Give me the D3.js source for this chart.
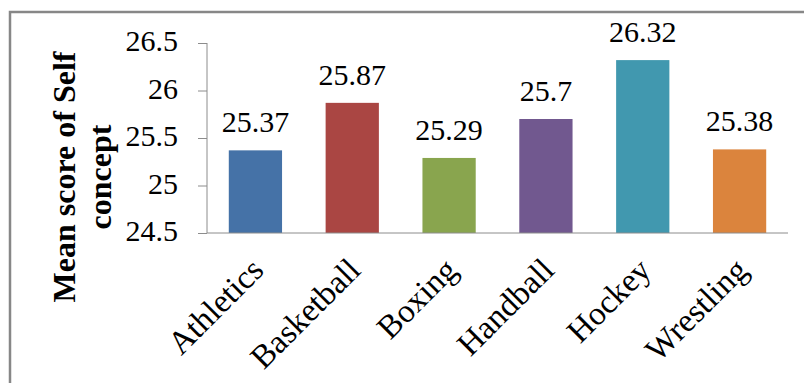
<!DOCTYPE html>
<html>
<head>
<meta charset="utf-8">
<script src="https://cdn.jsdelivr.net/npm/d3@7"></script>
<style>
  body { margin: 0; background: #fff; }
  svg { display: block; }
  text { font-family: "Liberation Serif", "Times New Roman", serif; fill: #000; }
</style>
</head>
<body>
<script>
const categories = ["Athletics", "Basketball", "Boxing", "Handball", "Hockey", "Wrestling"];
const values = [25.37, 25.87, 25.29, 25.7, 26.32, 25.38];
const colors = ["#4572A7", "#AA4643", "#89A54E", "#71588F", "#4198AF", "#DB843D"];
const yTicks = [24.5, 25, 25.5, 26, 26.5];
const yTickLabels = ["24.5", "25", "25.5", "26", "26.5"];
const titleLines = ["Mean score of Self", "concept"];

const width = 804, height = 383;
const plotLeft = 207, plotRight = 788, plotTop = 43, plotBottom = 233;

const svg = d3.select("body")
  .append("svg")
  .attr("width", width)
  .attr("height", height);

svg.append("rect")
  .attr("width", width)
  .attr("height", height)
  .attr("fill", "#fff");

// outer frame, cut off at right and bottom
svg.append("path")
  .attr("d", `M10,${height} L10,12 L${width},12`)
  .attr("fill", "none")
  .attr("stroke", "#878787")
  .attr("stroke-width", 2.5);

const x = d3.scaleBand()
  .domain(categories)
  .range([plotLeft, plotRight])
  .paddingInner(0.45)
  .paddingOuter(0.225);

const y = d3.scaleLinear()
  .domain([24.5, 26.5])
  .range([plotBottom, plotTop]);

svg.selectAll(".bar")
  .data(values)
  .enter()
  .append("rect")
  .attr("class", "bar")
  .attr("x", (d, i) => x(categories[i]))
  .attr("y", (d) => y(d))
  .attr("width", x.bandwidth())
  .attr("height", (d) => y(24.5) - y(d))
  .attr("fill", (d, i) => colors[i]);

const yAxis = svg.append("g")
  .attr("transform", `translate(${plotLeft},0)`)
  .call(d3.axisLeft(y)
    .tickValues(yTicks)
    .tickSize(9)
    .tickPadding(20)
    .tickFormat((d, i) => yTickLabels[i]));
yAxis.select(".domain").attr("stroke", "#8c8c8c").attr("d", `M0,${plotTop}V${plotBottom}`);
yAxis.selectAll(".tick line").attr("stroke", "#8c8c8c");
yAxis.selectAll(".tick text")
  .attr("font-size", 30)
  .attr("dy", "0.25em");

const xAxis = svg.append("g")
  .attr("transform", `translate(0,${plotBottom})`)
  .call(d3.axisBottom(x).tickSize(0).tickFormat(""));
xAxis.select(".domain").attr("stroke", "#8c8c8c").attr("d", `M${plotLeft},0H${plotRight}`);

svg.selectAll(".cat")
  .data(categories)
  .enter()
  .append("text")
  .attr("class", "cat")
  .attr("text-anchor", "end")
  .attr("font-size", 33)
  .attr("transform", (d) => `translate(${x(d) + x.bandwidth() / 2 + 10},${plotBottom + 39}) rotate(-45)`)
  .text((d) => d);

svg.selectAll(".lbl")
  .data(values)
  .enter()
  .append("text")
  .attr("class", "lbl")
  .attr("text-anchor", "middle")
  .attr("font-size", 30)
  .attr("x", (d, i) => x(categories[i]) + x.bandwidth() / 2)
  .attr("y", (d) => y(d) - 18)
  .text((d) => d);

const title = svg.append("text")
  .attr("text-anchor", "middle")
  .attr("font-weight", "bold")
  .attr("font-size", 32)
  .attr("transform", `translate(0,177) rotate(-90)`);
title.selectAll("tspan")
  .data(titleLines)
  .enter()
  .append("tspan")
  .attr("x", 0)
  .attr("y", (d, i) => 75 + i * 36)
  .text((d) => d);
</script>
</body>
</html>
